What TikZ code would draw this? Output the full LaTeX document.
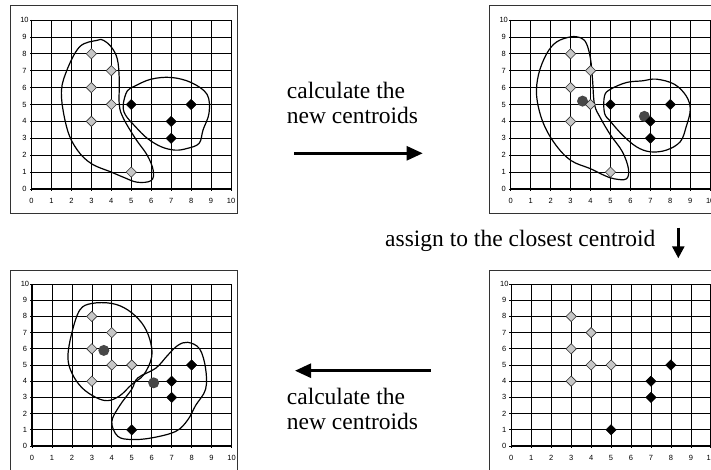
\documentclass[tikz,border=0pt]{standalone}
\usepackage{fontspec}
\setmainfont{Liberation Serif}
\newfontfamily\axisfont{Liberation Sans}
\usepackage{tikz}
\usetikzlibrary{shapes.geometric,arrows.meta,positioning}

% grid of one panel, drawn in the panel's own units
\newcommand{\kgrid}[1]{%
  \draw[panelframe] ([shift={(-21.5pt,-24.5pt)}]0,0) rectangle ([shift={(6pt,14pt)}]10,10);
  \foreach \i in {0,...,10} {
    \draw[gridline] (\i,0) -- (\i,10);
    \draw[gridline] (0,\i) -- (10,\i);
    \draw[gridline] (\i,0) -- ++(0,-2pt);
    \draw[gridline] (0,\i) -- ++(-2pt,0);
    \node[axislabel] (#1-x\i) at ([yshift=-11.5pt]\i,0) {\i};
    \node[axislabel] (#1-y\i) at ([xshift=-7pt]0,\i) {\i};
  }
  \draw[axisline] (0,10) -- (0,0) -- (10,0);
}

\begin{document}
\begin{tikzpicture}[
    x=1pt, y=1pt,
    panelframe/.style={draw=black!80, line width=1pt},
    gridline/.style={black, line width=0.7pt},
    axisline/.style={black, line width=1.3pt},
    axislabel/.style={font=\axisfont\fontsize{7.5}{8}\selectfont, inner sep=0pt},
    lightpt/.style={diamond, draw=black!80, fill=black!22, line width=0.6pt, minimum size=10.5pt, inner sep=0pt},
    darkpt/.style={diamond, draw=black, fill=black, minimum size=10.5pt, inner sep=0pt},
    centroid/.style={circle, fill=black!72, minimum size=11pt, inner sep=0pt},
    blob/.style={draw, line width=1.2pt},
    caption/.style={font=\fontsize{23.5}{25}\selectfont, align=left, inner sep=0pt},
    steparrow/.style={line width=2.6pt, -{Triangle[length=16pt,width=14pt]}},
    downarrow/.style={line width=2.6pt, -{Triangle[length=12pt,width=12pt]}},
    tl/.style={shift={(31.5pt,280pt)}, x=19.95pt, y=16.9pt},
    tr/.style={shift={(510.7pt,280pt)}, x=19.95pt, y=16.9pt},
    bl/.style={shift={(32pt,23pt)}, x=19.95pt, y=16.2pt},
    br/.style={shift={(511.3pt,23pt)}, x=19.95pt, y=16.2pt}
]
\useasboundingbox (0,0) rectangle (711,469);

% top left: first assignment
\begin{scope}[tl]
  \kgrid{tl}
  \draw[blob] plot[smooth cycle, tension=0.6] coordinates {(3.3,8.8) (2.4,8.4) (1.7,6.8) (1.5,5.5) (1.8,3.5) (2.3,2.3) (3,1.5) (4,1.0) (4.6,0.7) (5.3,0.4) (6.0,0.5) (6.1,1.1) (5.8,2.0) (5.2,3.0) (4.6,4.2) (4.4,5) (4.4,6.5) (4.3,7.7) (4.0,8.4) (3.6,8.8)};
  \draw[blob] plot[smooth cycle, tension=0.6] coordinates {(5.2,6.1) (6.0,6.5) (7.0,6.6) (8.0,6.3) (8.8,5.6) (8.9,4.5) (8.6,3.5) (8.4,2.7) (7.8,2.4) (7.2,2.3) (6.5,2.5) (5.8,3.0) (5.2,3.7) (4.7,4.4) (4.6,5.0) (4.8,5.8)};
  \foreach [count=\k] \px/\py in {3/8,4/7,3/6,4/5,3/4,5/1}
    \node[lightpt] (tl-a\k) at (\px,\py) {};
  \foreach [count=\k] \px/\py in {5/5,8/5,7/4,7/3}
    \node[darkpt] (tl-b\k) at (\px,\py) {};
\end{scope}

% top right: centroids of the clusters
\begin{scope}[tr]
  \kgrid{tr}
  \draw[blob] plot[smooth cycle, tension=0.6] coordinates {(3.0,9.0) (2.3,8.7) (1.8,8.0) (1.4,6.8) (1.3,5.5) (1.6,4.0) (2.2,2.7) (3.0,1.7) (4.0,1.2) (4.7,0.8) (5.2,0.6) (5.8,0.6) (5.9,1.2) (5.6,2.2) (5.0,3.2) (4.5,4.2) (4.2,5) (4.1,6.5) (4.0,7.7) (3.8,8.6) (3.5,8.95)};
  \draw[blob] plot[smooth cycle, tension=0.6] coordinates {(5.0,5.9) (5.8,6.3) (6.6,6.4) (7.3,6.5) (8.2,6.2) (8.8,5.5) (9.0,4.7) (8.8,3.7) (8.5,2.8) (7.8,2.3) (7.0,2.2) (6.3,2.5) (5.6,3.2) (5.0,4.0) (4.7,4.5) (4.7,5.5)};
  \node[centroid] (tr-c1) at (3.6,5.2) {};
  \node[centroid] (tr-c2) at (6.7,4.3) {};
  \foreach [count=\k] \px/\py in {3/8,4/7,3/6,4/5,3/4,5/1}
    \node[lightpt] (tr-a\k) at (\px,\py) {};
  \foreach [count=\k] \px/\py in {5/5,8/5,7/4,7/3}
    \node[darkpt] (tr-b\k) at (\px,\py) {};
\end{scope}

% bottom right: new assignment
\begin{scope}[br]
  \kgrid{br}
  \foreach [count=\k] \px/\py in {3/8,4/7,3/6,4/5,5/5,3/4}
    \node[lightpt] (br-a\k) at (\px,\py) {};
  \foreach [count=\k] \px/\py in {8/5,7/4,7/3,5/1}
    \node[darkpt] (br-b\k) at (\px,\py) {};
\end{scope}

% bottom left: new centroids
\begin{scope}[bl]
  \kgrid{bl}
  \draw[blob] plot[smooth cycle, tension=0.6] coordinates {(3.0,8.8) (2.4,8.4) (2.0,7.0) (1.8,5.5) (2.0,4.5) (2.5,3.6) (3.2,3.0) (3.8,2.8) (4.4,3.1) (5.0,3.8) (5.6,4.4) (6.0,5.5) (5.9,6.6) (5.5,7.6) (4.8,8.4) (4.0,8.8)};
  \draw[blob] plot[smooth cycle, tension=0.6] coordinates {(7.3,6.2) (7.8,6.4) (8.4,6.0) (8.7,4.8) (8.7,3.5) (8.2,2.5) (7.8,1.6) (7.2,0.9) (6.0,0.5) (5.0,0.4) (4.3,0.6) (4.0,1.5) (4.4,2.5) (5.0,3.5) (5.3,4.2) (6.2,4.8) (6.8,5.6)};
  \node[centroid] (bl-c1) at (3.6,5.9) {};
  \node[centroid] (bl-c2) at (6.1,3.9) {};
  \foreach [count=\k] \px/\py in {3/8,4/7,3/6,4/5,5/5,3/4}
    \node[lightpt] (bl-a\k) at (\px,\py) {};
  \foreach [count=\k] \px/\py in {8/5,7/4,7/3,5/1}
    \node[darkpt] (bl-b\k) at (\px,\py) {};
\end{scope}

% steps between the panels
\node[caption, anchor=north west] (calc1) at (286.7,386.7) {calculate the\\new centroids};
\coordinate (calc1-s) at (294,315.7);
\coordinate (calc1-e) at (422.7,315.7);
\draw[steparrow] (calc1-s) -- (calc1-e);

\node[caption, anchor=base west] (assign) at (385,222.3) {assign to the closest centroid};
\coordinate (assign-s) at (678.3,241.3);
\coordinate (assign-e) at (678.3,210.7);
\draw[downarrow] (assign-s) -- (assign-e);

\coordinate (calc2-s) at (430.7,98.3);
\coordinate (calc2-e) at (295,98.3);
\draw[steparrow] (calc2-s) -- (calc2-e);
\node[caption, anchor=north west] (calc2) at (286.7,81) {calculate the\\new centroids};

\end{tikzpicture}
\end{document}
